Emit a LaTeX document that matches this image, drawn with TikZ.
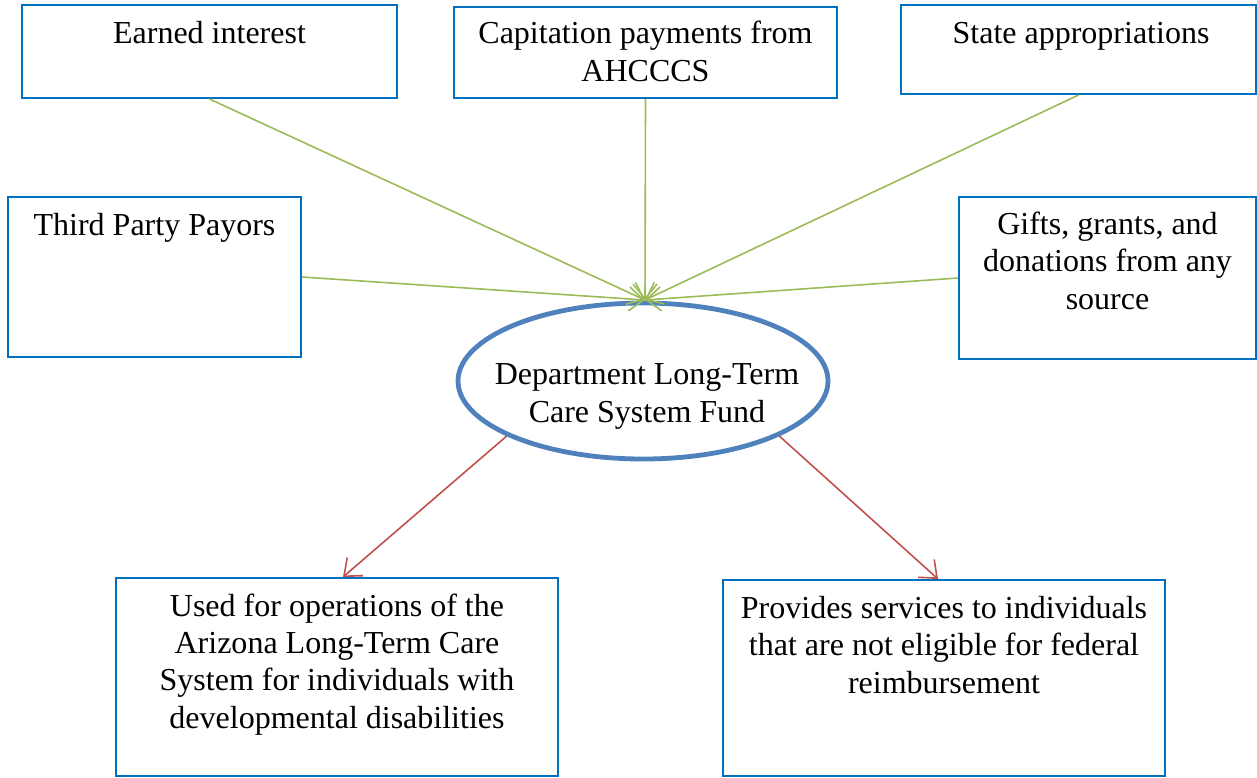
\documentclass[tikz,border=0pt]{standalone}
\usepackage{fontspec}
\setmainfont{Liberation Serif}
\usetikzlibrary{arrows.meta,fit,shapes.geometric}
\definecolor{boxblue}{HTML}{0070C0}
\definecolor{ellblue}{HTML}{4F81BD}
\definecolor{ingreen}{HTML}{9BBB59}
\definecolor{outred}{HTML}{C0504D}
\tikzset{
  srcbox/.style={draw=boxblue, line width=0.75pt, fill=white, inner sep=0pt, rectangle},
  lbl/.style={align=center, anchor=base, inner sep=0pt, font=\fontsize{12}{13.9}\selectfont},
  inflow/.style={draw=ingreen, line width=0.6pt, -{Straight Barb[length=5.5pt,width=9pt]}},
  outflow/.style={draw=outred, line width=0.6pt, -{Straight Barb[length=5.5pt,width=9pt]}},
  fundell/.style={ellipse, draw=ellblue, line width=1.8pt, fill=white, minimum width=138.75pt, minimum height=58.5pt, inner sep=0pt}
}
\begin{document}
\begin{tikzpicture}[x=0.375pt, y=-0.375pt]
\useasboundingbox (0,0) rectangle (1257,777);
% source boxes
\node[srcbox, fit={(22,5)(397,98)}] (ei) {};
\node[srcbox, fit={(454,7)(837,98)}] (cap) {};
\node[srcbox, fit={(901,5)(1256,94)}] (sa) {};
\node[srcbox, fit={(8,197)(301,357)}] (tp) {};
\node[srcbox, fit={(959,197)(1256,359)}] (gf) {};
% destination boxes
\node[srcbox, fit={(116,578)(558,776)}] (bl) {};
\node[srcbox, fit={(723,580)(1165,776)}] (br) {};
% fund
\node[fundell] (fund) at (643,381) {};
\coordinate (hub) at (645,300);
% texts (anchor base = baseline of last line)
\node[lbl] (eit) at (209.5,43) {Earned interest};
\node[lbl] (capt) at (645.5,81) {Capitation payments from\\AHCCCS};
\node[lbl] (sat) at (1081,43) {State appropriations};
\node[lbl] (tpt) at (154.5,235) {Third Party Payors};
\node[lbl] (gft) at (1107.5,309) {Gifts, grants, and\\donations from any\\source};
\node[lbl] (fundt) at (647,422) {Department Long-Term\\Care System Fund};
\node[lbl] (blt) at (337,728) {Used for operations of the\\Arizona Long-Term Care\\System for individuals with\\developmental disabilities};
\node[lbl] (brt) at (944,693) {Provides services to individuals\\that are not eligible for federal\\reimbursement};
% inflows
\draw[inflow] (ei.south) -- (hub);
\draw[inflow] (cap.south) -- (hub);
\draw[inflow] (sa.south) -- (hub);
\draw[inflow] (tp.east) -- (hub);
\draw[inflow] (gf.west) -- (hub);
% outflows
\draw[outflow] (fund.202.6) -- ([xshift=2.25pt]bl.north);
\draw[outflow] (fund.338.2) -- ([xshift=-2.25pt]br.north);
\end{tikzpicture}
\end{document}
